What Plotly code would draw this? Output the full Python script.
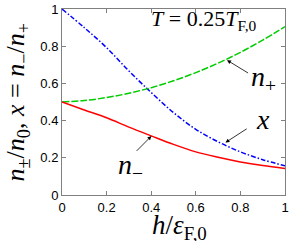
import plotly.graph_objects as go

h_vals = [0.0, 0.1, 0.2, 0.3, 0.4, 0.5, 0.6, 0.7, 0.8, 0.9, 1.0]
n_minus = [0.5, 0.457, 0.415, 0.365, 0.318, 0.272, 0.232, 0.203, 0.178, 0.158, 0.142]
n_plus = [0.5, 0.508, 0.524, 0.547, 0.577, 0.614, 0.658, 0.709, 0.767, 0.833, 0.905]
x_ratio = [1.0, 0.90, 0.792, 0.667, 0.551, 0.443, 0.353, 0.286, 0.232, 0.190, 0.157]

x_ticks = [0, 0.2, 0.4, 0.6, 0.8, 1]
x_tick_labels = ["0", "0.2", "0.4", "0.6", "0.8", "1"]
y_ticks = [0, 0.2, 0.4, 0.6, 0.8, 1]
y_tick_labels = ["0", "0.2", "0.4", "0.6", "0.8", "1"]

SERIF = "Liberation Serif"
SANS = "Liberation Sans"

fig = go.Figure()
fig.add_trace(go.Scatter(x=h_vals, y=x_ratio, mode="lines", line=dict(color="#0000ff", width=1.5, dash="5px,2px,1.5px,2px", shape="spline"), showlegend=False))
fig.add_trace(go.Scatter(x=h_vals, y=n_plus, mode="lines", line=dict(color="#00cc00", width=1.5, dash="7px,2px", shape="spline"), showlegend=False))
fig.add_trace(go.Scatter(x=h_vals, y=n_minus, mode="lines", line=dict(color="#ff0000", width=1.5, shape="spline"), showlegend=False))

axis_common = dict(showgrid=False, zeroline=False, showline=True, linecolor="#808080", linewidth=1,
                   mirror="ticks", ticks="inside", ticklen=4, tickcolor="#808080",
                   ticklabeloverflow="allow",
                   tickfont=dict(family=SANS, size=13, color="black"))

fig.update_xaxes(range=[0, 1], tickvals=x_ticks, ticktext=x_tick_labels, **axis_common)
fig.update_yaxes(range=[0, 1], tickvals=y_ticks, ticktext=y_tick_labels, **axis_common)

annotations = [
    dict(x=0.74, y=0.725, ax=0.841, ay=0.651, axref="x", ayref="y", xref="x", yref="y", text="",
         showarrow=True, arrowhead=2, arrowsize=1, arrowwidth=0.8, arrowcolor="black"),
    dict(x=0.401, y=0.317, ax=0.328, ay=0.229, axref="x", ayref="y", xref="x", yref="y", text="",
         showarrow=True, arrowhead=2, arrowsize=1, arrowwidth=0.8, arrowcolor="black"),
    dict(x=0.733, y=0.282, ax=0.835, ay=0.361, axref="x", ayref="y", xref="x", yref="y", text="",
         showarrow=True, arrowhead=2, arrowsize=1, arrowwidth=0.8, arrowcolor="black"),
    dict(x=0.903, y=0.624, xref="x", yref="y", text="<i>n</i><sub>+</sub>", showarrow=False,
         font=dict(family=SERIF, size=28, color="black")),
    dict(x=0.308, y=0.155, xref="x", yref="y", text="<i>n</i><sub>−</sub>", showarrow=False,
         font=dict(family=SERIF, size=28, color="black")),
    dict(x=0.9, y=0.405, xref="x", yref="y", text="<i>x</i>", showarrow=False,
         font=dict(family=SERIF, size=28, color="black")),
    dict(x=0.39, y=0.94, xref="x", yref="y", xanchor="left", text="<i>T</i> = 0.25<i>T</i><sub>F,0</sub>",
         showarrow=False, font=dict(family=SERIF, size=22, color="black")),
    dict(x=0.525, y=-0.07, xref="paper", yref="paper", yanchor="top",
         text="<i>h</i>/<i>ε</i><sub>F,0</sub>", showarrow=False,
         font=dict(family=SERIF, size=27, color="black")),
    dict(x=-0.2, y=0.5, xref="paper", yref="paper", xanchor="center", textangle=-90,
         text="<i>n</i><sub>±</sub>/<i>n</i><sub>0</sub>, <i>x</i> = <i>n</i><sub>−</sub>/<i>n</i><sub>+</sub>",
         showarrow=False, font=dict(family=SERIF, size=26, color="black")),
]

fig.update_layout(
    width=291, height=241,
    margin=dict(l=62, r=2, t=6, b=46),
    paper_bgcolor="white", plot_bgcolor="white",
    annotations=annotations,
)

fig.write_html("out.html", config={"displayModeBar": False},
               post_script="document.body.style.margin='0';document.body.style.overflow='hidden';")
